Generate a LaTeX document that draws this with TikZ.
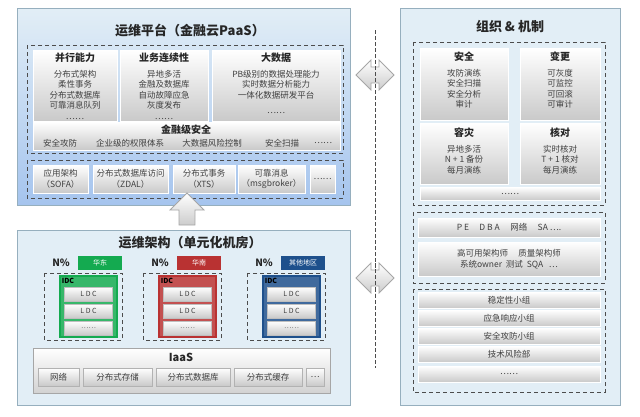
\documentclass[tikz,border=0pt]{standalone}
\usepackage{fontspec}
\setmainfont{Noto Sans CJK SC}
\usetikzlibrary{shapes.arrows}
\definecolor{panel}{RGB}{226,238,246}
\definecolor{panelline}{RGB}{150,175,190}
\definecolor{topblue}{RGB}{165,196,238}
\definecolor{idcgreen}{RGB}{20,170,80}
\definecolor{idcred}{RGB}{185,50,50}
\definecolor{idcblue}{RGB}{30,80,140}
\tikzset{
  txt/.style={font=\fontsize{8.5}{10.5}\selectfont, align=center, text=black!75},
  head/.style={font=\fontsize{10}{11}\selectfont\bfseries, text=black!85},
  title/.style={font=\fontsize{13}{15}\selectfont\bfseries, text=black!85},
  gbox/.style={top color=white, bottom color=gray!42, draw=white},
  dbox/.style={draw=black!70, thick, dash pattern=on 4pt off 3pt},
  bigarrow/.style={draw=gray!70, top color=white, bottom color=gray!40, thick},
}
\begin{document}
\begin{tikzpicture}[x=1pt,y=-1pt]
\useasboundingbox (0,0) rectangle (640,416);
\fill[white] (0,0) rectangle (640,416);
%Plattform oben
\draw[panelline, top color=panel, bottom color=topblue] (17,8) rectangle (350,205);
\node[title] (ptitle) at (190,30) {运维平台（金融云PaaS）};
\draw[dbox] (27,45) rectangle (343,153);
\draw[gbox] (33,50) rectangle (117,121);
\draw[gbox] (120,50) rectangle (208,121);
\draw[gbox] (212,50) rectangle (340,121);
\node[head] (bx) at (75,58) {并行能力};
\node[txt, below] (bxt) at (bx.south) {分布式架构\\柔性事务\\分布式数据库\\可靠消息队列\\……};
\node[head] (yw) at (164,58) {业务连续性};
\node[txt, below] (ywt) at (yw.south) {异地多活\\金融及数据库\\自动故障应急\\灰度发布\\……};
\node[head] (dsj) at (276,58) {大数据};
\node[txt, below] (dsjt) at (dsj.south) {PB级别的数据处理能力\\实时数据分析能力\\一体化数据研发平台};
\node[txt] (dsjd) at (276,113) {……};
\draw[gbox] (33,122) rectangle (340,150);
\node[head] (aq) at (186,130) {金融级安全};
\node[txt] (aq1) at (60,143) {安全攻防};
\node[txt] (aq2) at (130,143) {企业级的权限体系};
\node[txt] (aq3) at (212,143) {大数据风险控制};
\node[txt] (aq4) at (282,143) {安全扫描};
\node[txt] (aq5) at (323,143) {……};
%Middleware
\draw[dbox] (27,160) rectangle (343,198);
\draw[gbox] (33,165) rectangle (88,193);
\draw[gbox] (93,165) rectangle (168,193);
\draw[gbox] (173,165) rectangle (235,193);
\draw[gbox] (238,165) rectangle (305,193);
\draw[gbox] (310,165) rectangle (335,193);
\node[txt] (sofa) at (60.5,179) {应用架构\\（SOFA）};
\node[txt] (zdal) at (130.5,179) {分布式数据库访问\\（ZDAL）};
\node[txt] (xts) at (204,179) {分布式事务\\（XTS）};
\node[txt] (msg) at (271.5,179) {可靠消息\\（msgbroker）};
\node[txt] (mdot) at (322.5,179) {……};
%Pfeil hoch
\node[single arrow, shape border rotate=90, bigarrow, minimum height=32pt, minimum width=34pt, single arrow head extend=5pt, inner sep=4pt] (up) at (187,213) {};
%Architektur unten
\draw[panelline, fill=panel] (17,230) rectangle (350,405);
\node[title] (atitle) at (190,243) {运维架构（单元化机房）};
\foreach \nm/\cx/\col/\reg [count=\i] in {g/82/idcgreen/华东, r/181/idcred/华南, b/285/idcblue/其他地区} {
  \node[head] (np\nm) at (\cx-21,263) {N\%};
  \node[fill=\col, text=white, font=\fontsize{7}{8}\selectfont, minimum width=44pt, minimum height=14pt] (tag\nm) at (\cx+18,263) {\reg};
  \draw[dbox] (\cx-38,273) rectangle (\cx+40,340);
  \draw[\col, line width=2pt, fill=\col!85] (\cx-22,276) rectangle (\cx+35,337);
  \node[font=\fontsize{7}{8}\selectfont\bfseries, text=black] (idc\nm) at (\cx-14,281) {IDC};
  \foreach \y/\t [count=\j] in {294/L D C, 311/L D C, 328/……}
    \node[gbox, draw=gray!50, txt, minimum width=48pt, minimum height=14pt, font=\fontsize{7}{8}\selectfont] (ldc\nm\j) at (\cx+6.5,\y) {\t};
}
\draw[draw=gray!70, top color=white, bottom color=gray!35, thick] (33,348) rectangle (330,393);
\node[font=\fontsize{11}{12}\selectfont\bfseries, text=black!85] (iaas) at (181,357) {IaaS};
\draw[gbox, draw=gray!60] (38,368) rectangle (79,386);
\draw[gbox, draw=gray!60] (83,368) rectangle (152,386);
\draw[gbox, draw=gray!60] (156,368) rectangle (230,386);
\draw[gbox, draw=gray!60] (234,368) rectangle (302,386);
\draw[gbox, draw=gray!60] (306,368) rectangle (324,386);
\node[txt] (net) at (58.5,377) {网络};
\node[txt] (cc) at (117.5,377) {分布式存储};
\node[txt] (sjk) at (193,377) {分布式数据库};
\node[txt] (hc) at (268,377) {分布式缓存};
\node[txt] (idot) at (315,377) {…};
%Mitte
\coordinate (ltop) at (375,30);
\coordinate (lbot) at (375,368);
\draw[black!70, thick, dash pattern=on 4pt off 2pt] (ltop) -- (lbot);
\node[double arrow, bigarrow, minimum height=38pt, minimum width=30pt, double arrow head extend=3pt, inner sep=3pt] (da1) at (375,75) {};
\node[double arrow, bigarrow, minimum height=38pt, minimum width=30pt, double arrow head extend=3pt, inner sep=3pt] (da2) at (375,278) {};
\draw[black!70, thick, dash pattern=on 4pt off 2pt] (375,60) -- (375,90) (375,263) -- (375,293);
%Organisation rechts
\draw[panelline, fill=panel] (400,8) rectangle (620,405);
\node[title] (otitle) at (510,27) {组织 \& 机制};
\draw[dbox] (413,42) rectangle (605,205);
\draw[gbox] (420,48) rectangle (508,120);
\draw[gbox] (520,48) rectangle (600,120);
\draw[gbox] (420,123) rectangle (508,184);
\draw[gbox] (520,123) rectangle (600,184);
\draw[gbox] (420,187) rectangle (600,200);
\node[head] (saf) at (464,57) {安全};
\node[txt, below] (saft) at (saf.south) {攻防演练\\安全扫描\\安全分析\\审计};
\node[head] (chg) at (560,57) {变更};
\node[txt, below] (chgt) at (chg.south) {可灰度\\可监控\\可回滚\\可审计};
\node[head] (rz) at (464,133) {容灾};
\node[txt, below] (rzt) at (rz.south) {异地多活\\N + 1 备份\\每月演练};
\node[head] (hd) at (560,133) {核对};
\node[txt, below] (hdt) at (hd.south) {实时核对\\T + 1 核对\\每月演练};
\node[txt] (odot) at (510,194) {……};
\draw[dbox] (413,212) rectangle (605,283);
\draw[gbox] (418,218) rectangle (600,237);
\draw[gbox] (418,242) rectangle (600,276);
\node[txt] (pe) at (509,227.5) {P E \quad D B A \quad 网络 \quad SA ….};
\node[txt] (jg) at (509,259) {高可用架构师 \quad 质量架构师\\系统owner \ 测试 \ SQA \ \ …};
\draw[dbox] (413,289) rectangle (605,392);
\foreach \y/\t [count=\k] in {300/稳定性小组, 318/应急响应小组, 336/安全攻防小组, 354/技术风险部, 374/……} {
  \draw[gbox] (418,\y-8) rectangle (600,\y+8);
  \node[txt] (grp\k) at (509,\y) {\t};
}
\end{tikzpicture}
\end{document}
